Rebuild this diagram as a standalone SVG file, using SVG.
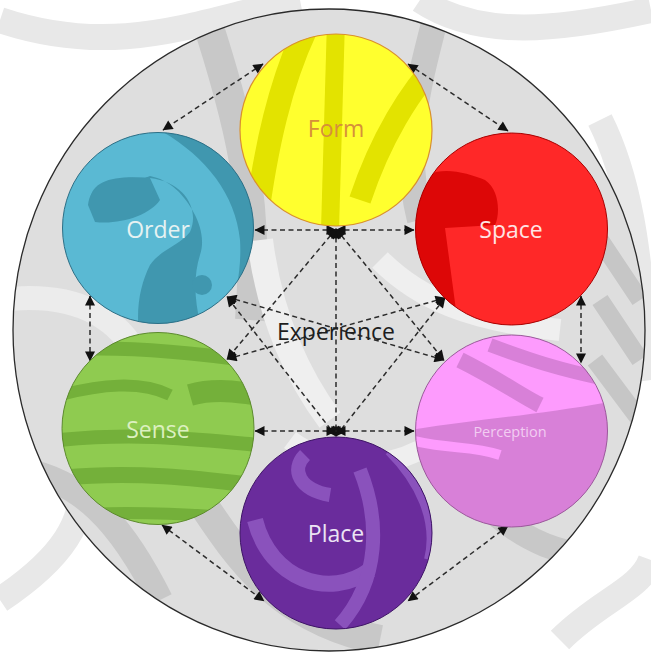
<svg xmlns="http://www.w3.org/2000/svg" width="651" height="655" viewBox="0 0 651 655">
<style>
.lbl{font-family:"Open Sans","Noto Sans","Liberation Sans",sans-serif;text-anchor:middle}
.big{font-size:23px}
.con line{stroke:#2b2b2b;stroke-width:1.5;stroke-dasharray:5 3.5;fill:none;marker-start:url(#ah);marker-end:url(#ah)}
.band{fill:none;stroke-linecap:butt}
</style>
<defs>
<marker id="ah" viewBox="0 0 10 10" refX="9.5" refY="5" markerWidth="11" markerHeight="10" orient="auto-start-reverse" markerUnits="userSpaceOnUse">
<path d="M0,0 L10,5 L0,10 z" fill="#111"/>
</marker>
<clipPath id="cBig"><ellipse cx="329" cy="330" rx="316" ry="321"/></clipPath>
<clipPath id="cForm"><circle cx="336" cy="130" r="96"/></clipPath>
<clipPath id="cSpace"><circle cx="511.5" cy="229" r="96"/></clipPath>
<clipPath id="cOrder"><circle cx="158" cy="228" r="95.5"/></clipPath>
<clipPath id="cSense"><circle cx="158" cy="428.5" r="96"/></clipPath>
<clipPath id="cPerc"><circle cx="511.5" cy="431" r="96"/></clipPath>
<clipPath id="cPlace"><circle cx="336" cy="533" r="96"/></clipPath>
</defs>

<!-- page watermark -->
<rect width="651" height="655" fill="#ffffff"/>
<g fill="none" stroke="#e8e8e8" stroke-width="26">
<path d="M0 20 C120 60 200 20 300 0"/>
<path d="M420 0 C480 40 560 30 651 10"/>
<path d="M0 600 C60 560 90 520 80 470"/>
<path d="M600 120 C640 200 640 300 651 380"/>
<path d="M560 640 C600 600 640 590 651 560"/>
</g>

<!-- big circle -->
<g id="ground">
<ellipse cx="329" cy="330" rx="316" ry="321" fill="#dedede"/>
<g clip-path="url(#cBig)" class="band">
<path d="M200 0 C240 120 260 200 250 320" stroke="#c8c8c8" stroke-width="30"/>
<path d="M440 0 C420 80 400 140 420 220" stroke="#c8c8c8" stroke-width="26"/>
<path d="M0 300 C80 290 120 320 140 360" stroke="#ececec" stroke-width="24"/>
<path d="M260 240 C270 320 300 380 330 420" stroke="#efefef" stroke-width="26"/>
<path d="M380 260 C420 300 470 320 560 330" stroke="#efefef" stroke-width="22"/>
<path d="M600 240 L640 300 M600 300 L640 360 M595 360 L640 420" stroke="#c6c6c6" stroke-width="18"/>
<path d="M20 470 C80 480 120 520 160 600" stroke="#c8c8c8" stroke-width="26"/>
<path d="M200 500 C240 560 280 620 380 640" stroke="#c8c8c8" stroke-width="30"/>
<path d="M480 500 C520 540 560 560 640 560" stroke="#c8c8c8" stroke-width="24"/>
<path d="M290 440 C330 470 380 470 420 450" stroke="#efefef" stroke-width="20"/>
</g>
<ellipse cx="329" cy="330" rx="316" ry="321" fill="none" stroke="#2a2a2a" stroke-width="1.3"/>
</g>

<!-- connectors -->
<g id="connectors" class="con">
<line x1="263" y1="64" x2="163" y2="130"/>
<line x1="408" y1="64" x2="508" y2="131"/>
<line x1="90" y1="296" x2="90" y2="361"/>
<line x1="581" y1="296" x2="581" y2="363"/>
<line x1="162" y1="525" x2="264" y2="601"/>
<line x1="508" y1="526" x2="408" y2="601"/>
<line x1="336" y1="230" x2="255" y2="230"/>
<line x1="336" y1="230" x2="414" y2="230"/>
<line x1="336" y1="229" x2="336" y2="436"/>
<line x1="336" y1="229" x2="227" y2="359"/>
<line x1="336" y1="229" x2="444" y2="360"/>
<line x1="336" y1="436" x2="227" y2="297"/>
<line x1="336" y1="436" x2="445" y2="298"/>
<line x1="336" y1="431" x2="255" y2="431"/>
<line x1="336" y1="431" x2="414" y2="431"/>
<line x1="227" y1="297" x2="444" y2="360"/>
<line x1="227" y1="359" x2="445" y2="298"/>
</g>

<!-- Form -->
<g id="form">
<circle cx="336" cy="130" r="96" fill="#ffff2e"/>
<g clip-path="url(#cForm)" class="band">
<path d="M255 230 C265 150 280 80 310 20" stroke="#e3e300" stroke-width="24"/>
<path d="M330 230 L336 20" stroke="#e3e300" stroke-width="18"/>
<path d="M360 200 C380 140 410 90 440 60" stroke="#e3e300" stroke-width="22"/>
</g>
<circle cx="336" cy="130" r="96" fill="none" stroke="#d9902e" stroke-width="1.2"/>
<text class="lbl big" x="336" y="137" fill="#d6903a">Form</text>
</g>

<!-- Space -->
<g id="space">
<circle cx="511.5" cy="229" r="96" fill="#ff2828"/>
<g clip-path="url(#cSpace)">
<path d="M410 200 C420 160 460 170 485 180 C500 190 500 215 495 225 L445 228 L460 340 L410 340 Z" fill="#dd0707"/>
<path d="M500 120 L560 120 C580 150 600 170 620 190 L620 120 Z" fill="#dd0707"/>
</g>
<circle cx="511.5" cy="229" r="96" fill="none" stroke="#a80000" stroke-width="1"/>
<text class="lbl big" x="511" y="238" fill="#ffe4e4">Space</text>
</g>

<!-- Order -->
<g id="order">
<circle cx="158" cy="228" r="95.5" fill="#5ab9d3"/>
<g clip-path="url(#cOrder)">
<path d="M150 125 C200 150 235 190 240 240 C242 270 235 300 225 340 L260 340 L260 125 Z" fill="#4097af"/>
<path d="M90 200 C92 180 115 175 150 178 C185 182 200 210 190 232 C180 245 160 250 150 265 C140 285 135 310 140 340 L205 340 C195 310 192 280 200 255 C205 240 200 225 195 215 C185 195 170 180 150 176 Z" fill="#4097af"/>
<path d="M88 205 C90 182 115 176 150 178 L160 200 C150 215 120 225 95 222 Z" fill="#4097af"/>
<circle cx="202" cy="285" r="10" fill="#4097af"/>
</g>
<circle cx="158" cy="228" r="95.5" fill="none" stroke="#2d6f86" stroke-width="1"/>
<text class="lbl big" x="158" y="238" fill="#e6f2f2">Order</text>
</g>

<!-- Sense -->
<g id="sense">
<circle cx="158" cy="428.5" r="96" fill="#8fcb50"/>
<g clip-path="url(#cSense)" class="band">
<path d="M60 350 C120 345 190 352 260 362" stroke="#74b03a" stroke-width="14"/>
<path d="M60 395 C100 385 140 380 170 395" stroke="#74b03a" stroke-width="12"/>
<path d="M190 395 C215 388 240 392 260 395" stroke="#74b03a" stroke-width="22"/>
<path d="M60 440 C140 432 200 440 260 445" stroke="#74b03a" stroke-width="14"/>
<path d="M60 478 C140 470 210 480 260 486" stroke="#74b03a" stroke-width="16"/>
<path d="M60 515 C140 510 210 515 260 520" stroke="#74b03a" stroke-width="12"/>
</g>
<circle cx="158" cy="428.5" r="96" fill="none" stroke="#5c8a2e" stroke-width="1"/>
<text class="lbl big" x="158" y="438" fill="#dcf0c0">Sense</text>
</g>

<!-- Perception -->
<g id="perception">
<circle cx="511.5" cy="431" r="96" fill="#fd9bfd"/>
<g clip-path="url(#cPerc)">
<path d="M410 430 C470 420 540 415 620 400 L620 540 L410 540 Z" fill="#d880d8"/>
<path d="M460 360 C500 380 520 395 540 405" stroke="#d880d8" stroke-width="16" fill="none"/>
<path d="M490 345 C530 360 560 370 610 380" stroke="#d880d8" stroke-width="14" fill="none"/>
<path d="M410 440 C450 450 470 445 500 455" stroke="#fd9bfd" stroke-width="10" fill="none"/>
</g>
<circle cx="511.5" cy="431" r="96" fill="none" stroke="#9a5a9a" stroke-width="1"/>
<text class="lbl" x="510" y="437" font-size="14.5" fill="#f2cdf2">Perception</text>
</g>

<!-- Place -->
<g id="place">
<circle cx="336" cy="533" r="96" fill="#6a2c9c"/>
<g clip-path="url(#cPlace)" class="band">
<path d="M305 455 C290 470 300 490 330 495" stroke="#8a52bc" stroke-width="14"/>
<path d="M255 520 C270 580 330 600 370 570" stroke="#8a52bc" stroke-width="16"/>
<path d="M360 470 C380 520 380 580 340 625" stroke="#8a52bc" stroke-width="14"/>
<path d="M390 450 C420 480 440 520 430 560" stroke="#8a52bc" stroke-width="12"/>
</g>
<circle cx="336" cy="533" r="96" fill="none" stroke="#3e1466" stroke-width="1"/>
<text class="lbl big" x="336" y="542" fill="#ece4f4">Place</text>
</g>

<!-- center label -->
<g id="experience">
<text class="lbl" x="336" y="340" font-size="23" fill="#1e1e1e">Experience</text>
</g>
</svg>
